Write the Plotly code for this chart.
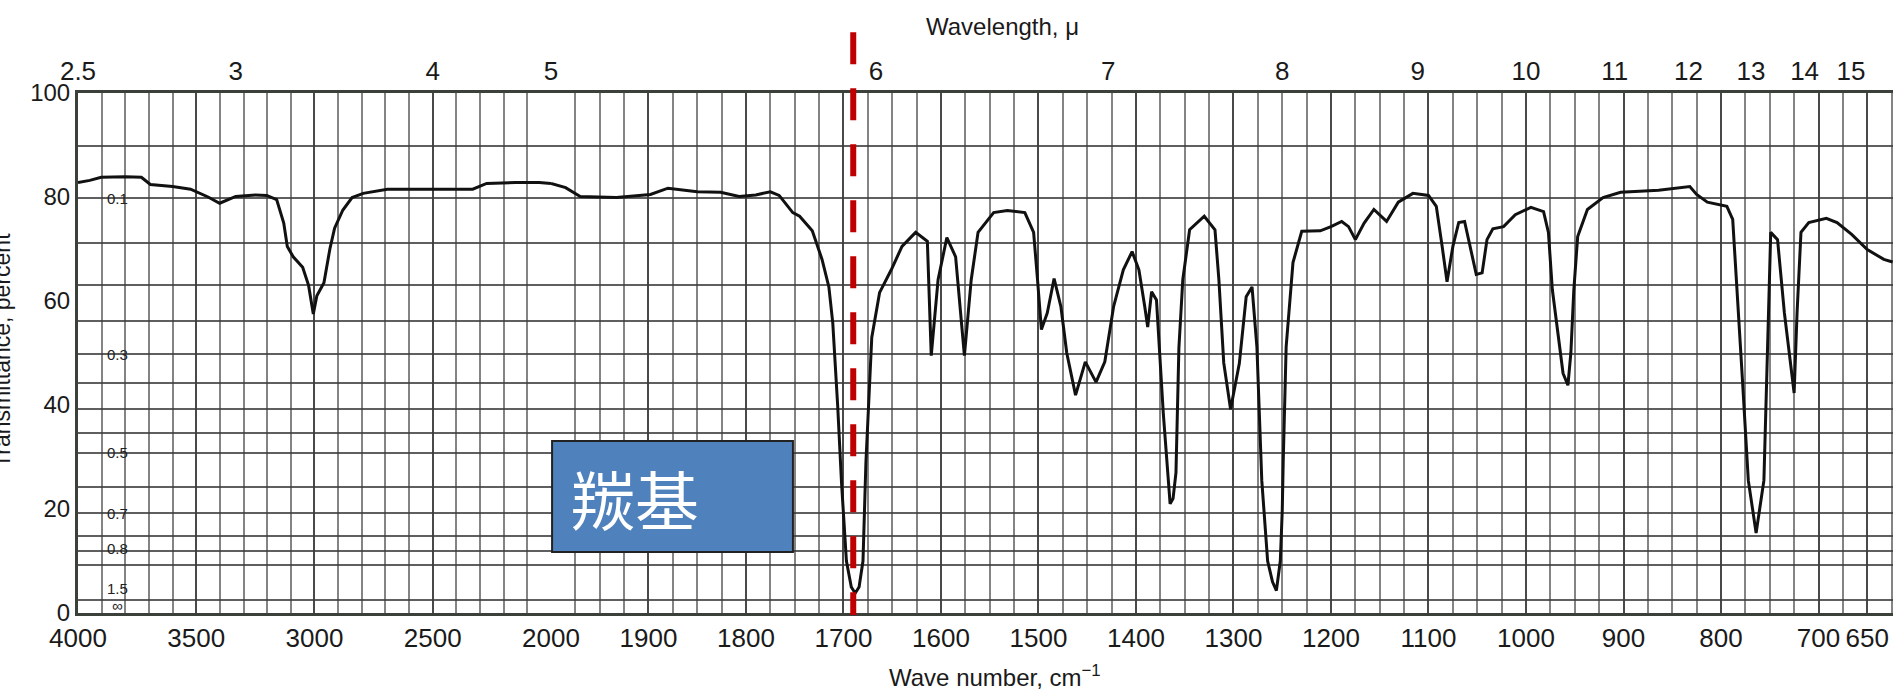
import plotly.graph_objects as go

# ---------------- data ----------------
# segment 1: 4000-2000 cm-1 (compressed scale)
wn_seg1 = [4000, 3950, 3902, 3800, 3732, 3694, 3600, 3524, 3450, 3401, 3333, 3250, 3202,
           3160, 3130, 3115, 3090, 3050, 3025, 3005, 2990, 2960, 2935, 2915, 2880, 2841,
           2794, 2692, 2500, 2331, 2272, 2150, 2050, 2000]
t_seg1 = [82.8, 83.2, 83.8, 83.9, 83.8, 82.4, 82.0, 81.5, 80.0, 78.8, 80.1, 80.4, 80.3,
          79.5, 75.0, 70.5, 68.5, 66.5, 63.0, 57.5, 61.0, 63.5, 70.0, 74.0, 77.5, 79.9,
          80.7, 81.5, 81.5, 81.5, 82.6, 82.8, 82.8, 82.6]

# segment 2: 2000-620 cm-1
wn_seg2 = [2000, 1985, 1970, 1933, 1898, 1880, 1850, 1826, 1807, 1790, 1775, 1766, 1752,
           1745, 1732, 1722, 1715, 1711, 1706, 1702, 1697, 1692, 1688, 1684, 1680, 1677,
           1673, 1671, 1663, 1651, 1640, 1626, 1614, 1610, 1603, 1594, 1585, 1576, 1569,
           1562, 1546, 1532, 1514, 1505, 1501, 1497, 1491, 1484, 1477, 1471, 1462, 1452,
           1441, 1432, 1423, 1413, 1404, 1397, 1391, 1388, 1384, 1379, 1372, 1367, 1365,
           1362, 1359, 1356, 1352, 1345, 1330, 1319, 1315, 1310, 1303, 1294, 1287, 1281,
           1276, 1271, 1265, 1260, 1256, 1252, 1250, 1249, 1246, 1239, 1230, 1211, 1200,
           1189, 1182, 1175, 1166, 1156, 1143, 1131, 1116, 1100, 1092, 1086, 1081, 1075,
           1069, 1063, 1057, 1051, 1045, 1040, 1034, 1023, 1011, 995, 982, 977, 973, 968,
           962, 957, 954, 951, 947, 937, 921, 903, 864, 832, 825, 814, 794, 788, 784, 778,
           772, 764, 756, 752, 749, 742, 735, 725, 722, 718, 710, 692, 681, 666, 650, 633,
           624]
t_seg2 = [82.6, 81.8, 80.1, 79.9, 80.5, 81.7, 81.0, 80.9, 80.1, 80.4, 81.0, 80.3, 77.0,
          76.3, 73.5, 68.0, 62.7, 55.8, 40.0, 25.0, 10.0, 5.0, 3.8, 5.0, 10.0, 29.0,
          45.0, 53.0, 61.6, 66.0, 70.5, 73.2, 71.5, 49.5, 64.1, 72.2, 68.5, 49.5, 64.1,
          73.2, 77.0, 77.4, 77.0, 73.2, 64.1, 54.5, 57.7, 64.3, 58.9, 50.0, 41.9, 48.3,
          44.4, 48.3, 58.9, 66.0, 69.5, 66.0, 58.9, 55.0, 61.8, 60.2, 38.4, 26.0, 21.0,
          22.0, 27.0, 51.0, 64.1, 73.7, 76.3, 73.7, 64.1, 48.1, 39.2, 48.0, 60.8, 62.7,
          51.2, 25.5, 10.0, 6.0, 4.3, 10.0, 19.7, 29.3, 51.2, 67.4, 73.4, 73.5, 74.3,
          75.3, 74.3, 71.8, 75.0, 77.6, 75.3, 79.0, 80.7, 80.3, 78.2, 70.5, 63.7, 70.5,
          75.1, 75.3, 70.5, 65.1, 65.4, 71.8, 73.9, 74.3, 76.6, 78.0, 77.2, 73.2, 62.2, 54.4,
          46.1, 43.8, 50.0, 62.0, 72.4, 77.6, 79.9, 80.9, 81.3, 82.0, 80.5, 79.0, 78.2, 75.7, 64.1, 44.8,
          25.5, 15.4, 25.5, 51.2, 73.2, 71.8, 57.7, 42.3, 57.7, 73.2, 75.1, 75.9, 75.1, 72.8, 69.9, 68.0,
          67.5]

# axis ticks
bottom_ticks_1 = [4000, 3500, 3000, 2500, 2000]
bottom_ticks_2 = [1900, 1800, 1700, 1600, 1500, 1400, 1300, 1200, 1100, 1000, 900, 800, 700, 650]
wavelength_1 = [2.5, 3, 4, 5]
wavelength_2 = [6, 7, 8, 9, 10, 11, 12, 13, 14, 15]
wavelength_text_1 = ["2.5", "3", "4", "5"]
wavelength_text_2 = ["6", "7", "8", "9", "10", "11", "12", "13", "14", "15"]
y_ticks = [0, 20, 40, 60, 80, 100]
# horizontal chart-paper rulings (transmittance %)
paper_rulings = [89.9, 79.8, 71.1, 63.0, 56.2, 49.8, 44.2, 39.3, 34.7, 30.8, 24.2, 19.2,
                 14.9, 12.0, 9.3, 2.5]
absorb_labels = ["0.1", "0.3", "0.5", "0.7", "0.8", "1.5", "∞"]
absorb_label_t = [79.8, 49.8, 30.8, 19.2, 12.4, 4.8, 1.4]

carbonyl_wn = 1690
range1 = [4000, 2000]
range2 = [2000, 623.6]

# ---------------- figure ----------------
FONT = "Liberation Sans, Arial, sans-serif"
GRID = "rgba(60,60,60,0.82)"
GRID_MINOR = "rgba(85,85,85,0.72)"
AXIS = "#3b403b"
split = 0.2606

fig = go.Figure()
fig.add_trace(go.Scatter(x=wn_seg1, y=t_seg1, xaxis="x", yaxis="y", mode="lines",
                         line=dict(color="#111111", width=3), hoverinfo="skip", showlegend=False))
fig.add_trace(go.Scatter(x=wn_seg2, y=t_seg2, xaxis="x2", yaxis="y", mode="lines",
                         line=dict(color="#111111", width=3), hoverinfo="skip", showlegend=False))
# anchors for the top (wavelength) axes
fig.add_trace(go.Scatter(x=range1, y=[None, None], xaxis="x3", yaxis="y", mode="lines",
                         hoverinfo="skip", showlegend=False))
fig.add_trace(go.Scatter(x=range2, y=[None, None], xaxis="x4", yaxis="y", mode="lines",
                         hoverinfo="skip", showlegend=False))

xtickfont = dict(family=FONT, size=26, color="#1a1a1a")
ytickfont = dict(family=FONT, size=24, color="#1a1a1a")

common_x = dict(showline=True, linewidth=3, linecolor=AXIS, ticks="", zeroline=False,
                tickfont=xtickfont, tickmode="array", anchor="y", automargin=False)

fig.update_layout(
    width=1893, height=694, autosize=False, showlegend=False,
    margin=dict(l=78, r=0, t=93, b=81, pad=0, autoexpand=False),
    paper_bgcolor="white", plot_bgcolor="white",
    xaxis=dict(domain=[0, split], range=range1, tickvals=bottom_ticks_1,
               ticktext=[str(v) for v in bottom_ticks_1],
               showgrid=True, gridcolor=GRID, gridwidth=1.5,
               minor=dict(dtick=100, tick0=2000, showgrid=True, gridcolor=GRID_MINOR, gridwidth=1.5),
               **common_x),
    xaxis2=dict(domain=[split, 1], range=range2, tickvals=bottom_ticks_2,
                ticktext=[str(v) for v in bottom_ticks_2],
                showgrid=True, gridcolor=GRID, gridwidth=1.5,
                minor=dict(dtick=25, tick0=2000, showgrid=True, gridcolor=GRID_MINOR, gridwidth=1.5),
                **common_x),
    xaxis3=dict(overlaying="x", side="top", range=range1,
                tickvals=[10000 / w for w in wavelength_1], ticktext=wavelength_text_1,
                showgrid=False, **common_x),
    xaxis4=dict(overlaying="x2", side="top", range=range2,
                tickvals=[10000 / w for w in wavelength_2], ticktext=wavelength_text_2,
                showgrid=False, **common_x),
    yaxis=dict(domain=[0, 1], range=[0, 100], anchor="x", tickmode="array", tickvals=y_ticks,
               ticktext=[str(v) for v in y_ticks], showgrid=False, zeroline=False,
               showline=True, linewidth=3, linecolor=AXIS, ticks="", tickfont=ytickfont,
               automargin=False,
               minor=dict(tickmode="array", tickvals=paper_rulings, showgrid=True,
                          gridcolor=GRID, gridwidth=1.5)),
)

annotations = [
    dict(text="Wavelength, μ", x=0.5096, y=1.127, xref="paper", yref="paper",
         xanchor="center", yanchor="middle", showarrow=False,
         font=dict(family=FONT, size=24, color="#1a1a1a")),
    dict(text="Wave number, cm<sup>−1</sup>", x=0.5052, y=-0.121, xref="paper", yref="paper",
         xanchor="center", yanchor="middle", showarrow=False,
         font=dict(family=FONT, size=24, color="#1a1a1a")),
    dict(text="Transmittance, percent", x=-0.0419, y=0.506, xref="paper", yref="paper",
         xanchor="center", yanchor="middle", textangle=-90, showarrow=False,
         font=dict(family=FONT, size=23, color="#1a1a1a")),
    dict(text="羰基", x=0.2705, y=0.2231, xref="paper", yref="paper", xanchor="left",
         yanchor="middle", showarrow=False,
         font=dict(family="Noto Sans CJK SC", size=64, color="white")),
]
for lab, tv in zip(absorb_labels, absorb_label_t):
    annotations.append(dict(text=lab, x=0.022, y=tv, xref="paper", yref="y", showarrow=False,
                            xanchor="center", yanchor="middle",
                            font=dict(family=FONT, size=15, color="#222222")))
fig.update_layout(annotations=annotations)

fig.add_shape(type="rect", xref="paper", yref="paper", x0=0.2612, x1=0.3939, y0=0.1173, y1=0.3308,
              fillcolor="#4f81bd", line=dict(color="#222222", width=2), layer="above")
fig.add_shape(type="line", xref="x2", yref="paper", x0=carbonyl_wn, x1=carbonyl_wn,
              y0=1.117, y1=-0.004, line=dict(color="#c00000", width=6, dash="32px,24px"),
              layer="above")

fig.write_html("out.html")
